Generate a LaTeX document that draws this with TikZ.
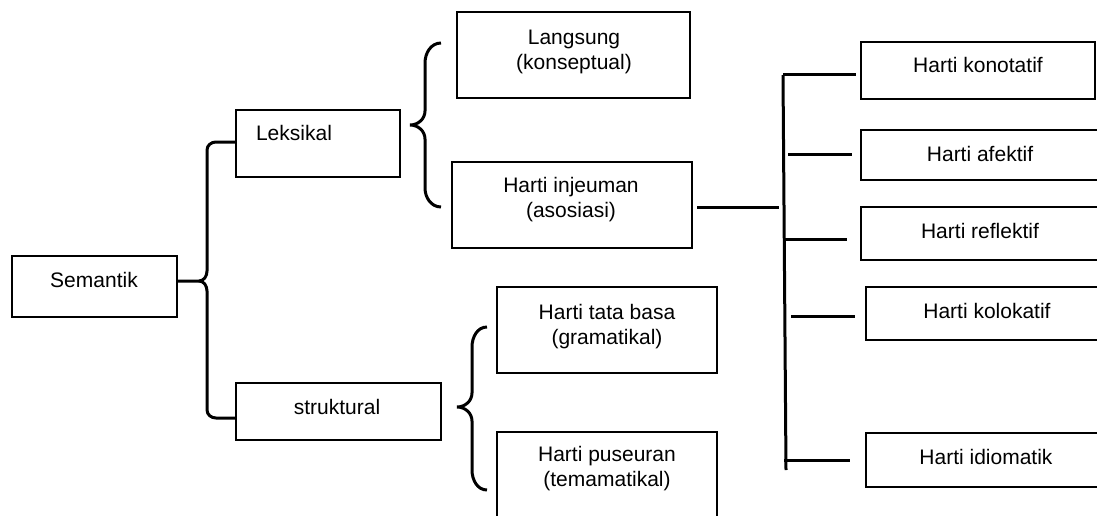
\documentclass[tikz,border=0pt]{standalone}
\usepackage{fontspec}
\setmainfont{Liberation Sans}
\usetikzlibrary{calc}
\begin{document}
\begin{tikzpicture}[x=1pt,y=-1pt,
  box/.style={draw,line width=2pt,inner sep=0pt},
  txt/.style={inner sep=0pt,align=center,font=\fontsize{21}{25}\selectfont},
  conn/.style={line width=3pt}]
\useasboundingbox (0,0) rectangle (1097,516);
% boxes
\node[box,minimum width=165,minimum height=61] (sem) at (94.5,286.5) {};
\node[box,minimum width=164,minimum height=67] (lek) at (318,143.5) {};
\node[box,minimum width=205,minimum height=57] (str) at (338.5,411.5) {};
\node[box,minimum width=233,minimum height=86] (lang) at (573.5,55) {};
\node[box,minimum width=240,minimum height=86] (inj) at (572,205) {};
\node[box,minimum width=220,minimum height=86] (tata) at (607,330) {};
\node[box,minimum width=220,minimum height=108] (pus) at (607,486) {};
\node[box,minimum width=234,minimum height=57] (kon) at (978,70.5) {};
\node[box,minimum width=249,minimum height=50] (afe) at (985.5,155) {};
\node[box,minimum width=249,minimum height=53] (ref) at (985.5,233.5) {};
\node[box,minimum width=244,minimum height=53] (kol) at (988,313.5) {};
\node[box,minimum width=244,minimum height=54] (idi) at (988,460) {};
% texts
\node[txt] (tsem) at (94,280) {Semantik};
\node[txt] (tlek) at (294,133) {Leksikal};
\node[txt] (tstr) at (337,407) {struktural};
\node[txt] (tlang) at (574,51.5) {Langsung\\(konseptual)};
\node[txt] (tinj) at (571,199.5) {Harti injeuman\\(asosiasi)};
\node[txt] (ttata) at (607,327) {Harti tata basa\\(gramatikal)};
\node[txt] (tpus) at (607,468.5) {Harti puseuran\\(temamatikal)};
\node[txt] (tkon) at (978,65) {Harti konotatif};
\node[txt] (tafe) at (980,154) {Harti afektif};
\node[txt] (tref) at (980,231) {Harti reflektif};
\node[txt] (tkol) at (987,311) {Harti kolokatif};
\node[txt] (tidi) at (986,457) {Harti idiomatik};
% left bracket from Semantik
\coordinate (semtip) at ($(sem.east)+(21,-5.5)$);
\draw[conn] ($(sem.east)+(0,-5.5)$) -- (semtip)
  to[out=0,in=-90] (207,271) -- (207,150) to[out=90,in=180] (216,142) -- (lek.west |- 0,142);
\draw[conn] (semtip)
  to[out=0,in=90] (207,291) -- (207,410) to[out=-90,in=180] (216,418) -- (str.west |- 0,418);
% brace right of Leksikal
\coordinate (lektip) at ($(lek.east)+(9,-18.5)$);
\draw[conn] ($(lang.west)+(-15,-12)$) to[out=180,in=90] (425,63) -- (425,111)
  to[out=-90,in=0] (lektip) to[out=0,in=90] (425,139) -- (425,188)
  to[out=-90,in=180] ($(inj.west)+(-10,2)$);
% brace right of struktural
\coordinate (strtip) at ($(str.east)+(15,-4.5)$);
\draw[conn] ($(tata.west)+(-9,-3)$) to[out=180,in=90] (472,347) -- (472,393)
  to[out=-90,in=0] (strtip) to[out=0,in=90] (472,421) -- (472,470)
  to[out=-90,in=180] ($(pus.west)+(-9,4)$);
% right bracket
\coordinate (vtop) at (783,75);
\coordinate (vbot) at (786,470);
\draw[conn] (vtop) -- (vbot);
\draw[conn] ($(inj.east)+(4,2)$) -- (779,207);
\draw[conn] (vtop) -- ($(kon.west)+(-4,4.5)$);
\draw[conn] (788,154) -- ($(afe.west)+(-8,-1)$);
\draw[conn] (783,239) -- ($(ref.west)+(-13,5.5)$);
\draw[conn] (791,316) -- ($(kol.west)+(-10,2.5)$);
\draw[conn] (784,460) -- ($(idi.west)+(-15,0)$);
\end{tikzpicture}
\end{document}
